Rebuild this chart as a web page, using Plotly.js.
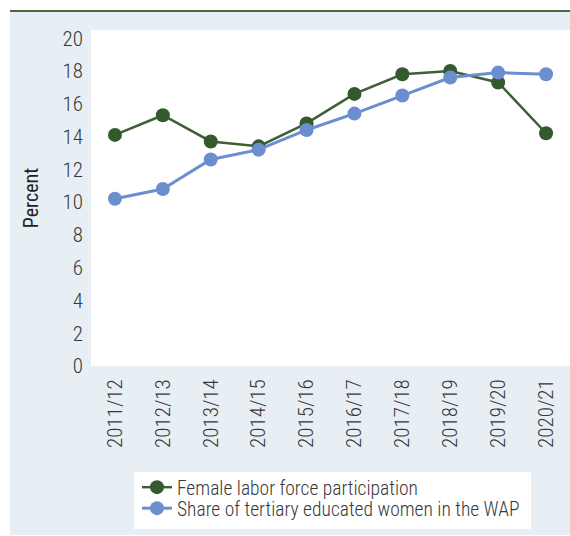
<!DOCTYPE html>
<html>
<head>
<meta charset="utf-8">
<script src="https://cdn.plot.ly/plotly-3.0.1.min.js"></script>
<style>
  html, body { margin: 0; padding: 0; background: #ffffff; width: 570px; height: 536px; overflow: hidden; }
  #chart { position: absolute; left: 10px; top: 10px; width: 560px; height: 523px; border-top: 2px solid #4a6a40; background: #e7eff5; }
</style>
</head>
<body>
<div id="chart"></div>
<script>
const years = ["2011/12","2012/13","2013/14","2014/15","2015/16","2016/17","2017/18","2018/19","2019/20","2020/21"];
const femaleLFP = [14.1, 15.3, 13.7, 13.4, 14.8, 16.6, 17.8, 18.0, 17.3, 14.2];
const tertiaryShare = [10.2, 10.8, 12.6, 13.2, 14.4, 15.4, 16.5, 17.6, 17.9, 17.8];
const yTicks = [0, 2, 4, 6, 8, 10, 12, 14, 16, 18, 20];

const FONT = "'Roboto Condensed', 'Liberation Sans', sans-serif";
const TXT = "#383838";
const GREEN = "#335a2d";
const BLUE = "#6b8ecf";

const traces = [
  {
    x: years, y: femaleLFP, type: "scatter", mode: "lines+markers",
    name: "Female labor force participation",
    legend: "legend",
    line: { color: "#3f5f37", width: 2.5 },
    marker: { color: GREEN, size: 14 }
  },
  {
    x: years, y: tertiaryShare, type: "scatter", mode: "lines+markers",
    name: "Share of tertiary educated women in the WAP",
    legend: "legend2",
    line: { color: BLUE, width: 3 },
    marker: { color: BLUE, size: 14 }
  }
];

const legendFont = { family: FONT, size: 19.5, color: TXT, weight: 300 };

const layout = {
  width: 560, height: 523,
  margin: { l: 81, r: 0, t: 18, b: 169 },
  paper_bgcolor: "#e7eff5",
  plot_bgcolor: "#ffffff",
  font: { family: FONT, color: TXT, size: 20, weight: 300 },
  showlegend: true,
  xaxis: {
    type: "category",
    range: [-0.5, 9.5],
    tickangle: -90,
    showgrid: false, zeroline: false, showline: false,
    ticks: "", ticklabelstandoff: 8,
    tickfont: { family: FONT, size: 21, color: TXT, weight: 300 }
  },
  yaxis: {
    range: [0, 20.5],
    tickvals: yTicks,
    showgrid: false, zeroline: false, showline: false,
    ticks: "", ticklabelstandoff: 7,
    tickfont: { family: FONT, size: 21, color: TXT, weight: 300 },
    title: { text: "Percent", font: { family: FONT, size: 20, color: "#222222", weight: 400 }, standoff: 18 }
  },
  shapes: [
    { type: "rect", xref: "paper", yref: "paper", x0: 0.0898, x1: 0.9186, y0: -0.4851, y1: -0.3155,
      fillcolor: "#ffffff", line: { width: 0 }, layer: "above" }
  ],
  legend: {
    x: 0.096, y: -0.3616, xanchor: "left", yanchor: "middle",
    bgcolor: "rgba(0,0,0,0)", borderwidth: 0,
    font: legendFont, itemwidth: 30
  },
  legend2: {
    x: 0.096, y: -0.4241, xanchor: "left", yanchor: "middle",
    bgcolor: "rgba(0,0,0,0)", borderwidth: 0,
    font: legendFont, itemwidth: 30
  }
};

Plotly.newPlot("chart", traces, layout, { displayModeBar: false, staticPlot: true });
</script>
</body>
</html>
